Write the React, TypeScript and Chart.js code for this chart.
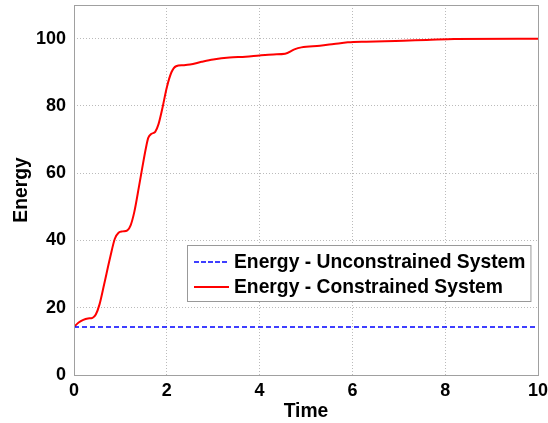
import React, { useEffect, useRef } from "react";
import { Chart, registerables } from "chart.js";

Chart.register(...registerables);

const timeConstrained = [0, 0.1, 0.2, 0.3, 0.4, 0.47, 0.55, 0.65, 0.78, 0.88, 0.96, 1.05, 1.15, 1.22, 1.3, 1.4, 1.47, 1.55, 1.6, 1.67, 1.75, 1.82, 1.9, 2.0, 2.1, 2.2, 2.35, 2.5, 2.75, 3.0, 3.35, 3.7, 4.0, 4.3, 4.55, 4.75, 4.9, 5.3, 5.6, 5.9, 6.3, 6.7, 7.1, 7.6, 8.2, 10];
const energyConstrained = [14.3, 15.6, 16.4, 16.8, 17.0, 18.0, 21, 27, 35, 40.5, 42.3, 42.7, 43, 44.5, 48.5, 56, 61.5, 67.5, 70.5, 71.7, 72.3, 74.5, 79, 85.5, 90, 91.8, 92.1, 92.3, 93.1, 93.8, 94.4, 94.6, 95.0, 95.3, 95.5, 96.8, 97.4, 97.9, 98.4, 98.9, 99.1, 99.2, 99.4, 99.6, 99.9, 100];
const timeUnconstrained = [0, 10];
const energyUnconstrained = [14.3, 14.3];
const xTicks = [0, 2, 4, 6, 8, 10];
const yTicks = [0, 20, 40, 60, 80, 100];
const legendLabels = ["Energy - Unconstrained System", "Energy - Constrained System"];

const FONT = "'Liberation Sans', Arial, sans-serif";

const legendPlugin = {
  id: "insideLegend",
  afterDraw(chart: any) {
    const ctx = chart.ctx;
    const ca = chart.chartArea;
    ctx.save();
    ctx.font = `bold 19.3px ${FONT}`;
    const textW = Math.max(...legendLabels.map((t) => ctx.measureText(t).width));
    const left = ca.left + 113;
    const top = ca.top + 240;
    const textX = left + 47;
    const right = textX + textW + 5;
    const bottom = top + 56;
    ctx.fillStyle = "#ffffff";
    ctx.fillRect(left, top, right - left, bottom - top);
    ctx.strokeStyle = "#999999";
    ctx.lineWidth = 1;
    ctx.strokeRect(left + 0.5, top + 0.5, right - left, bottom - top);
    const rows = [
      { y: top + 17, color: "#0000ff", dash: [5, 2], w: 1.5 },
      { y: top + 42, color: "#ff0000", dash: [], w: 2 },
    ];
    rows.forEach((r, i) => {
      ctx.beginPath();
      ctx.setLineDash(r.dash);
      ctx.strokeStyle = r.color;
      ctx.lineWidth = r.w;
      ctx.moveTo(left + 7, r.y);
      ctx.lineTo(left + 42, r.y);
      ctx.stroke();
      ctx.setLineDash([]);
      ctx.fillStyle = "#000000";
      ctx.textBaseline = "middle";
      ctx.textAlign = "left";
      ctx.fillText(legendLabels[i], textX, r.y + 1);
    });
    ctx.strokeStyle = "#a0a0a0";
    ctx.lineWidth = 1;
    ctx.strokeRect(Math.round(ca.left) + 0.5, Math.round(ca.top) + 0.5, Math.round(ca.right - ca.left), Math.round(ca.bottom - ca.top));
    ctx.restore();
  },
};

export default function App() {
  const ref = useRef<HTMLCanvasElement>(null);
  useEffect(() => {
    const canvas = ref.current;
    if (!canvas) return;
    const tickFont = { family: FONT, size: 18, weight: "bold" as const };
    const titleFont = { family: FONT, size: 19.3, weight: "bold" as const };
    const chart = new Chart(canvas, {
      type: "line",
      data: {
        datasets: [
          {
            label: legendLabels[0],
            data: timeUnconstrained.map((t, i) => ({ x: t, y: energyUnconstrained[i] })),
            borderColor: "#0000ff",
            borderWidth: 1.5,
            borderDash: [5, 3],
            pointRadius: 0,
            fill: false,
          },
          {
            label: legendLabels[1],
            data: timeConstrained.map((t, i) => ({ x: t, y: energyConstrained[i] })),
            borderColor: "#ff0000",
            borderWidth: 2,
            pointRadius: 0,
            cubicInterpolationMode: "monotone",
            fill: false,
          },
        ],
      },
      options: {
        animation: false,
        responsive: false,
        maintainAspectRatio: false,
        layout: { padding: { top: 5, right: 10, left: 0, bottom: 0 } },
        plugins: { legend: { display: false }, tooltip: { enabled: false } },
        scales: {
          x: {
            type: "linear",
            min: 0,
            max: 10,
            afterBuildTicks: (s: any) => {
              s.ticks = xTicks.map((v) => ({ value: v }));
            },
            afterFit: (s: any) => {
              s.height = 48;
              s.paddingLeft = 0;
              s.paddingRight = 0;
            },
            grid: { color: "#bbbbbb", lineWidth: 1, drawTicks: false },
            border: { display: false, dash: [1, 2] },
            ticks: { color: "#000", font: tickFont, padding: 5, maxRotation: 0, autoSkip: false },
            title: { display: true, text: "Time", color: "#000", font: titleFont, padding: { top: 0, bottom: 0 } },
          },
          y: {
            type: "linear",
            min: 0,
            max: 110,
            afterBuildTicks: (s: any) => {
              s.ticks = yTicks.map((v) => ({ value: v }));
            },
            afterFit: (s: any) => {
              s.width = 74;
              s.paddingTop = 0;
              s.paddingBottom = 0;
            },
            grid: { color: "#bbbbbb", lineWidth: 1, drawTicks: false },
            border: { display: false, dash: [1, 2] },
            ticks: { color: "#000", font: tickFont, padding: 8, autoSkip: false },
            title: { display: true, text: "Energy", color: "#000", font: titleFont, padding: { top: 10, bottom: 0 } },
          },
        },
      },
      plugins: [legendPlugin],
    } as any);
    return () => chart.destroy();
  }, []);
  return (
    <div style={{ position: "fixed", left: 0, top: 0, width: 548, height: 423, background: "#fff" }}>
      <canvas ref={ref} width={548} height={423} style={{ width: 548, height: 423 }} />
    </div>
  );
}
